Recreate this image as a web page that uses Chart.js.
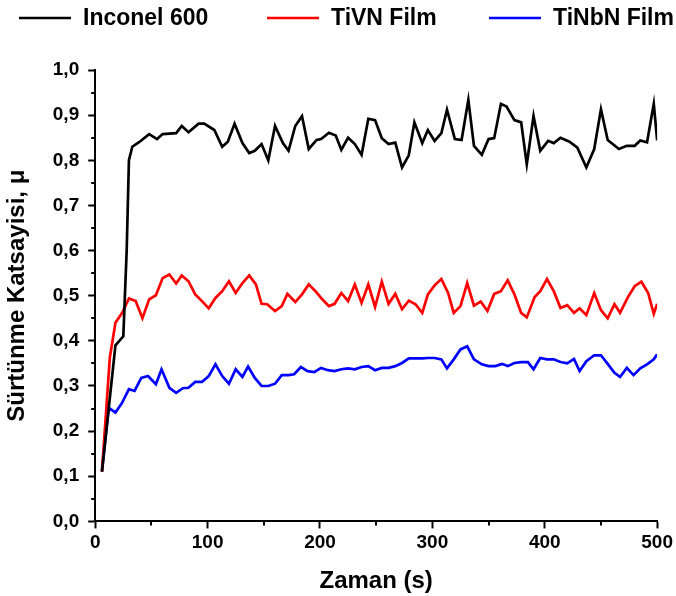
<!DOCTYPE html>
<html>
<head>
<meta charset="utf-8">
<script src="https://cdn.jsdelivr.net/npm/chart.js@4"></script>
<style>
  html, body { margin: 0; padding: 0; background: #fff; }
  #wrap { width: 676px; height: 596px; }
</style>
</head>
<body>
<div id="wrap"><canvas id="frictionChart"></canvas></div>
<script>
// Zaman (s) / Sürtünme katsayisi values
const inconelTime = [6, 18, 25, 28, 30, 33, 39, 48, 55, 60, 72, 77, 83, 92, 97, 106, 113, 118, 124, 131,
  137, 142, 148, 154, 160, 167, 172, 178, 184, 190, 197, 201, 208, 214, 219, 225, 231, 237, 243, 249,
  255, 261, 267, 273, 279, 284, 291, 296, 302, 308, 313, 320, 326, 332, 337, 344, 350, 355, 361, 366,
  373, 379, 384, 390, 396, 403, 408, 414, 422, 429, 437, 444, 450, 456, 466, 473, 480, 485, 491, 497, 500];
const inconelMu = [0.11, 0.39, 0.41, 0.60, 0.80, 0.83, 0.84, 0.858, 0.847, 0.858, 0.86, 0.876, 0.862, 0.881, 0.881, 0.867, 0.83, 0.841, 0.881, 0.838,
  0.816, 0.821, 0.836, 0.80, 0.876, 0.838, 0.821, 0.876, 0.898, 0.825, 0.845, 0.847, 0.861, 0.855, 0.823, 0.85, 0.836, 0.812, 0.892, 0.889,
  0.849, 0.836, 0.839, 0.784, 0.811, 0.884, 0.838, 0.867, 0.843, 0.86, 0.912, 0.847, 0.845, 0.934, 0.832, 0.812, 0.847, 0.849, 0.925, 0.919,
  0.889, 0.884, 0.791, 0.898, 0.821, 0.843, 0.838, 0.85, 0.841, 0.828, 0.784, 0.825, 0.913, 0.845, 0.825, 0.832, 0.832, 0.844, 0.84, 0.925, 0.844];

const tivnTime = [6, 13, 18, 24, 30, 36, 42, 48, 54, 60, 66, 72, 77, 83, 89, 95, 101, 107, 113, 119,
  125, 131, 137, 143, 148, 153, 160, 166, 171, 178, 184, 190, 196, 202, 208, 213, 219, 225, 231, 237,
  243, 249, 255, 261, 267, 273, 279, 285, 291, 296, 302, 308, 314, 319, 325, 331, 337, 343, 349, 355,
  361, 367, 373, 379, 384, 391, 396, 402, 408, 414, 420, 426, 431, 437, 444, 450, 456, 462, 467, 474,
  480, 486, 492, 497, 500];
const tivnMu = [0.11, 0.363, 0.44, 0.462, 0.494, 0.488, 0.45, 0.492, 0.501, 0.539, 0.547, 0.527, 0.545, 0.532, 0.503, 0.488, 0.472, 0.495, 0.51, 0.532,
  0.506, 0.528, 0.545, 0.525, 0.482, 0.481, 0.466, 0.477, 0.504, 0.486, 0.503, 0.525, 0.51, 0.492, 0.477, 0.482, 0.506, 0.488, 0.525, 0.484,
  0.525, 0.475, 0.531, 0.482, 0.504, 0.47, 0.489, 0.481, 0.462, 0.503, 0.523, 0.537, 0.506, 0.462, 0.477, 0.528, 0.478, 0.487, 0.466, 0.504,
  0.51, 0.534, 0.503, 0.462, 0.452, 0.497, 0.51, 0.537, 0.51, 0.473, 0.479, 0.462, 0.472, 0.457, 0.506, 0.468, 0.45, 0.481, 0.462, 0.497,
  0.521, 0.531, 0.506, 0.46, 0.482];

const tinbnTime = [6, 12, 18, 24, 30, 35, 41, 47, 54, 59, 66, 72, 78, 83, 89, 95, 101, 107, 113, 119,
  125, 131, 136, 142, 148, 154, 160, 166, 172, 177, 183, 189, 195, 201, 207, 213, 219, 225, 231, 237,
  243, 249, 255, 261, 267, 273, 279, 285, 291, 296, 302, 308, 313, 319, 325, 331, 337, 344, 350, 356,
  362, 367, 373, 379, 385, 390, 396, 402, 408, 414, 420, 426, 431, 437, 444, 450, 456, 462, 467, 473,
  479, 485, 491, 497, 500];
const tinbnMu = [0.112, 0.252, 0.241, 0.263, 0.293, 0.289, 0.318, 0.322, 0.304, 0.337, 0.296, 0.285, 0.295, 0.296, 0.309, 0.309, 0.322, 0.348, 0.322, 0.305,
  0.337, 0.32, 0.343, 0.318, 0.3, 0.3, 0.305, 0.324, 0.324, 0.326, 0.342, 0.333, 0.331, 0.34, 0.335, 0.333, 0.337, 0.339, 0.337, 0.342,
  0.344, 0.335, 0.34, 0.34, 0.344, 0.351, 0.361, 0.361, 0.361, 0.362, 0.362, 0.359, 0.339, 0.359, 0.381, 0.388, 0.359, 0.348, 0.344, 0.344,
  0.349, 0.344, 0.351, 0.353, 0.353, 0.337, 0.362, 0.359, 0.359, 0.353, 0.35, 0.36, 0.333, 0.355, 0.368, 0.368, 0.349, 0.329, 0.32, 0.34,
  0.324, 0.339, 0.348, 0.359, 0.37];

const seriesNames = ['Inconel 600', 'TiVN Film', 'TiNbN Film'];
const xTicks = [0, 100, 200, 300, 400, 500];
const yTicks = [0, 0.1, 0.2, 0.3, 0.4, 0.5, 0.6, 0.7, 0.8, 0.9, 1.0];

function pairs(xs, ys) {
  return xs.map((x, i) => ({ x: x, y: ys[i] }));
}

const fontFamily = '"Liberation Sans", Arial, sans-serif';

// short minor ticks halfway between the labelled ones
const minorTicks = {
  id: 'minorTicks',
  afterDraw(chart) {
    const ctx = chart.ctx;
    const xs = chart.scales.x, ys = chart.scales.y;
    ctx.save();
    ctx.strokeStyle = '#000';
    ctx.lineWidth = 2;
    ctx.beginPath();
    for (let i = 0; i < xTicks.length - 1; i++) {
      const px = Math.round(xs.getPixelForValue((xTicks[i] + xTicks[i + 1]) / 2));
      ctx.moveTo(px, xs.top);
      ctx.lineTo(px, xs.top + 4);
    }
    for (let i = 0; i < yTicks.length - 1; i++) {
      const py = Math.round(ys.getPixelForValue((yTicks[i] + yTicks[i + 1]) / 2));
      ctx.moveTo(ys.right, py);
      ctx.lineTo(ys.right - 4, py);
    }
    ctx.stroke();
    ctx.restore();
  }
};

// legend row across the top: a line sample then the series name
const lineLegend = {
  id: 'lineLegend',
  afterDraw(chart) {
    const ctx = chart.ctx;
    const starts = [19, 267, 489];
    const y = 18;
    ctx.save();
    ctx.font = 'bold 23px ' + fontFamily;
    ctx.textBaseline = 'middle';
    ctx.textAlign = 'left';
    chart.data.datasets.forEach((ds, i) => {
      const x = starts[i];
      ctx.strokeStyle = ds.borderColor;
      ctx.lineWidth = 2.5;
      ctx.beginPath();
      ctx.moveTo(x, y);
      ctx.lineTo(x + 52, y);
      ctx.stroke();
      ctx.fillStyle = '#000';
      ctx.fillText(ds.label, x + 64, y + 1);
    });
    ctx.restore();
  }
};

new Chart(document.getElementById('frictionChart'), {
  type: 'line',
  data: {
    datasets: [
      { label: seriesNames[0], data: pairs(inconelTime, inconelMu), borderColor: '#000000', backgroundColor: '#000000' },
      { label: seriesNames[1], data: pairs(tivnTime, tivnMu), borderColor: '#ff0000', backgroundColor: '#ff0000' },
      { label: seriesNames[2], data: pairs(tinbnTime, tinbnMu), borderColor: '#0000ff', backgroundColor: '#0000ff' }
    ]
  },
  options: {
    responsive: true,
    maintainAspectRatio: false,
    animation: false,
    layout: { padding: { top: 70, right: 4, left: 3, bottom: 0 } },
    elements: {
      point: { radius: 0 },
      line: { borderWidth: 2.7, tension: 0 }
    },
    plugins: {
      legend: { display: false },
      tooltip: { enabled: false }
    },
    scales: {
      x: {
        type: 'linear',
        min: 0,
        max: 500,
        border: { color: '#000', width: 2 },
        grid: { drawOnChartArea: false, drawTicks: true, tickLength: 7, tickWidth: 2, tickColor: '#000' },
        afterBuildTicks: function(axis) {
          axis.ticks = xTicks.map(v => ({ value: v }));
        },
        ticks: {
          color: '#000',
          padding: 3,
          maxRotation: 0,
          font: { family: fontFamily, size: 19, weight: 'bold' }
        },
        title: {
          display: true,
          text: 'Zaman (s)',
          color: '#000',
          font: { family: fontFamily, size: 24, weight: 'bold' },
          padding: { top: 10, bottom: 0 }
        }
      },
      y: {
        type: 'linear',
        min: 0,
        max: 1,
        border: { color: '#000', width: 2 },
        grid: { drawOnChartArea: false, drawTicks: true, tickLength: 7, tickWidth: 2, tickColor: '#000' },
        afterBuildTicks: function(axis) {
          axis.ticks = yTicks.map(v => ({ value: v }));
        },
        ticks: {
          color: '#000',
          padding: 9,
          font: { family: fontFamily, size: 19, weight: 'bold' },
          callback: function(value) {
            return value.toFixed(1).replace('.', ',');
          }
        },
        title: {
          display: true,
          text: 'Sürtünme Katsayisi, μ',
          color: '#000',
          font: { family: fontFamily, size: 24, weight: 'bold' },
          padding: { top: 0, bottom: 12 }
        }
      }
    }
  },
  plugins: [minorTicks, lineLegend]
});
</script>
</body>
</html>
